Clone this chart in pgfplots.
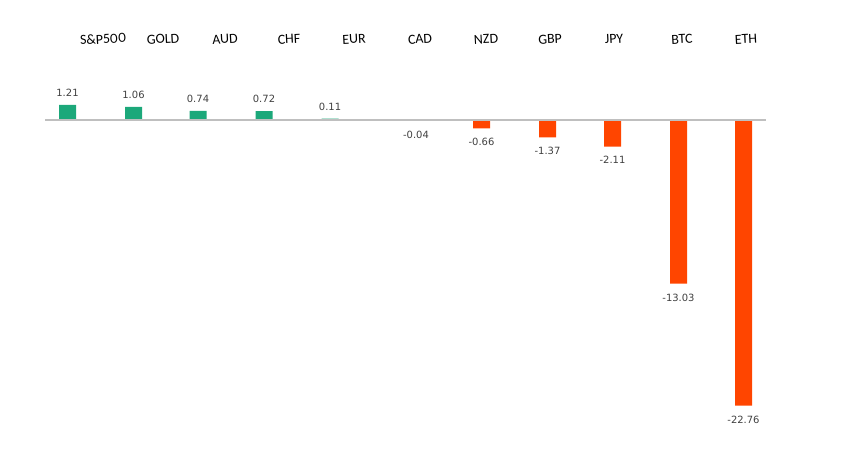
\documentclass[border=0pt]{standalone}
\usepackage{fontspec}
\setmainfont[Numbers={Lining,Proportional}]{Carlito}
\newfontfamily\valfont{DejaVu Sans}
\usepackage{pgfplots}
\pgfplotsset{compat=1.18}
\definecolor{upgreen}{RGB}{28,168,122}
\definecolor{downred}{RGB}{255,69,0}
\definecolor{zeroline}{RGB}{191,191,191}
\definecolor{valtext}{RGB}{64,64,64}
\begin{document}
\begin{tikzpicture}
\begin{axis}[
  scale only axis, width=843bp, height=460bp,
  xmin=0, xmax=843, ymin=-27.092, ymax=9.562,
  axis line style={draw=none},
  ytick=\empty,
  xtick={101,161,223,287,352,418,484,548,612,680,744},
  xticklabels={S\&P500,GOLD,AUD,CHF,EUR,CAD,NZD,GBP,JPY,BTC,ETH},
  xticklabel pos=upper,
  major tick length=0pt,
  xticklabel style={font=\fontsize{14}{16}\selectfont, rotate=3, anchor=center, yshift=-39bp},
  clip=false,
]
\addplot[ybar, bar width=17bp, bar shift=0pt, fill=upgreen, draw=none,
  point meta=explicit symbolic, nodes near coords,
  nodes near coords style={font=\valfont\fontsize{10}{12}\selectfont, text=valtext, anchor=south, yshift=5bp}]
  table[row sep=\\, meta=l]{
  x y l\\
  67.5 1.21 1.21\\
  133.5 1.06 1.06\\
  198 0.74 0.74\\
  264 0.72 0.72\\
  330 0.11 0.11\\
  };
\addplot[ybar, bar width=17bp, bar shift=0pt, fill=downred, draw=none,
  point meta=explicit symbolic, nodes near coords,
  nodes near coords style={font=\valfont\fontsize{10}{12}\selectfont, text=valtext, anchor=north, yshift=-6.5bp}]
  table[row sep=\\, meta=l]{
  x y l\\
  416 -0.04 -0.04\\
  481.5 -0.66 -0.66\\
  547.5 -1.37 -1.37\\
  612.5 -2.11 -2.11\\
  678.5 -13.03 -13.03\\
  743.5 -22.76 -22.76\\
  };
\addplot[zeroline, line width=2bp, forget plot] coordinates {(45,0) (766,0)};
\end{axis}
\end{tikzpicture}
\end{document}
